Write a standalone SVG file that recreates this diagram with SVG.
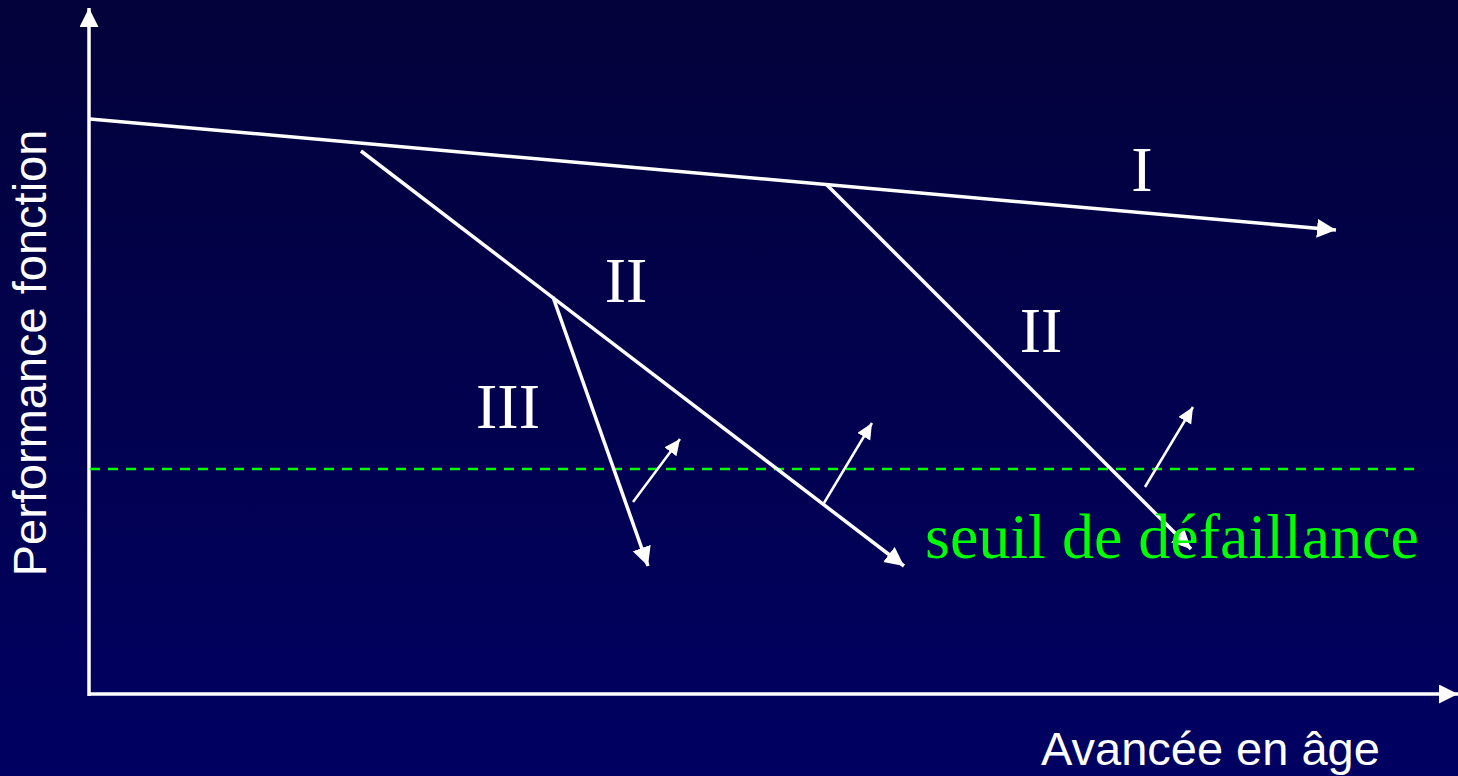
<svg xmlns="http://www.w3.org/2000/svg" width="1458" height="776" viewBox="0 0 1458 776">
  <defs>
    <linearGradient id="bg" x1="0" y1="0" x2="0" y2="1">
      <stop offset="0" stop-color="#03023a"/>
      <stop offset="1" stop-color="#000062"/>
    </linearGradient>
    <marker id="ah" markerUnits="userSpaceOnUse" markerWidth="22" markerHeight="22" refX="19" refY="9.5" orient="auto">
      <path d="M0,0 L19,9.5 L0,19 z" fill="#ffffff"/>
    </marker>
    <marker id="ahs" markerUnits="userSpaceOnUse" markerWidth="18" markerHeight="18" refX="16" refY="7.5" orient="auto">
      <path d="M0,0 L16,7.5 L0,15 z" fill="#ffffff"/>
    </marker>
  </defs>
  <style>
    .main { stroke: #ffffff; stroke-width: 3.5; fill: none; }
    .thin { stroke: #ffffff; stroke-width: 2.5; fill: none; }
    .sans { font-family: "Liberation Sans", Arial, sans-serif; fill: #ffffff; font-size: 47px; }
    .serif { font-family: "Liberation Serif", "Times New Roman", serif; font-size: 64px; fill: #ffffff; }
  </style>
  <rect x="0" y="0" width="1458" height="776" fill="url(#bg)"/>

  <g id="axes">
    <line class="main" x1="89" y1="696" x2="89" y2="8" marker-end="url(#ah)"/>
    <line class="main" x1="88" y1="694" x2="1458" y2="694" marker-end="url(#ah)"/>
  </g>

  <g id="threshold">
    <line x1="90" y1="469" x2="1418" y2="469" stroke="#00ff00" stroke-width="2.5" stroke-dasharray="10 8"/>
  </g>

  <g id="connectors">
    <line class="main" x1="90" y1="119" x2="1336" y2="230" marker-end="url(#ah)"/>
    <line class="main" x1="361" y1="151" x2="904" y2="566" marker-end="url(#ah)"/>
    <line class="main" x1="826" y1="184" x2="1191" y2="549" marker-end="url(#ah)"/>
    <line class="main" x1="553" y1="297" x2="648" y2="566" marker-end="url(#ah)"/>
    <line class="thin" x1="633" y1="502" x2="680" y2="439" marker-end="url(#ahs)"/>
    <line class="thin" x1="824" y1="503" x2="872" y2="423" marker-end="url(#ahs)"/>
    <line class="thin" x1="1145" y1="487" x2="1193" y2="407" marker-end="url(#ahs)"/>
  </g>

  <g id="label-I"><text class="serif" x="1142" y="191" text-anchor="middle">I</text></g>
  <g id="label-II-a"><text class="serif" x="626" y="302" text-anchor="middle">II</text></g>
  <g id="label-II-b"><text class="serif" x="1041" y="352" text-anchor="middle">II</text></g>
  <g id="label-III"><text class="serif" x="508" y="428" text-anchor="middle">III</text></g>
  <g id="label-seuil"><text class="serif" x="925" y="558" style="fill:#00ff00">seuil de défaillance</text></g>
  <g id="label-y"><text class="sans" transform="translate(46,353) rotate(-90)" text-anchor="middle">Performance fonction</text></g>
  <g id="label-x"><text class="sans" x="1041" y="765">Avancée en âge</text></g>
</svg>
